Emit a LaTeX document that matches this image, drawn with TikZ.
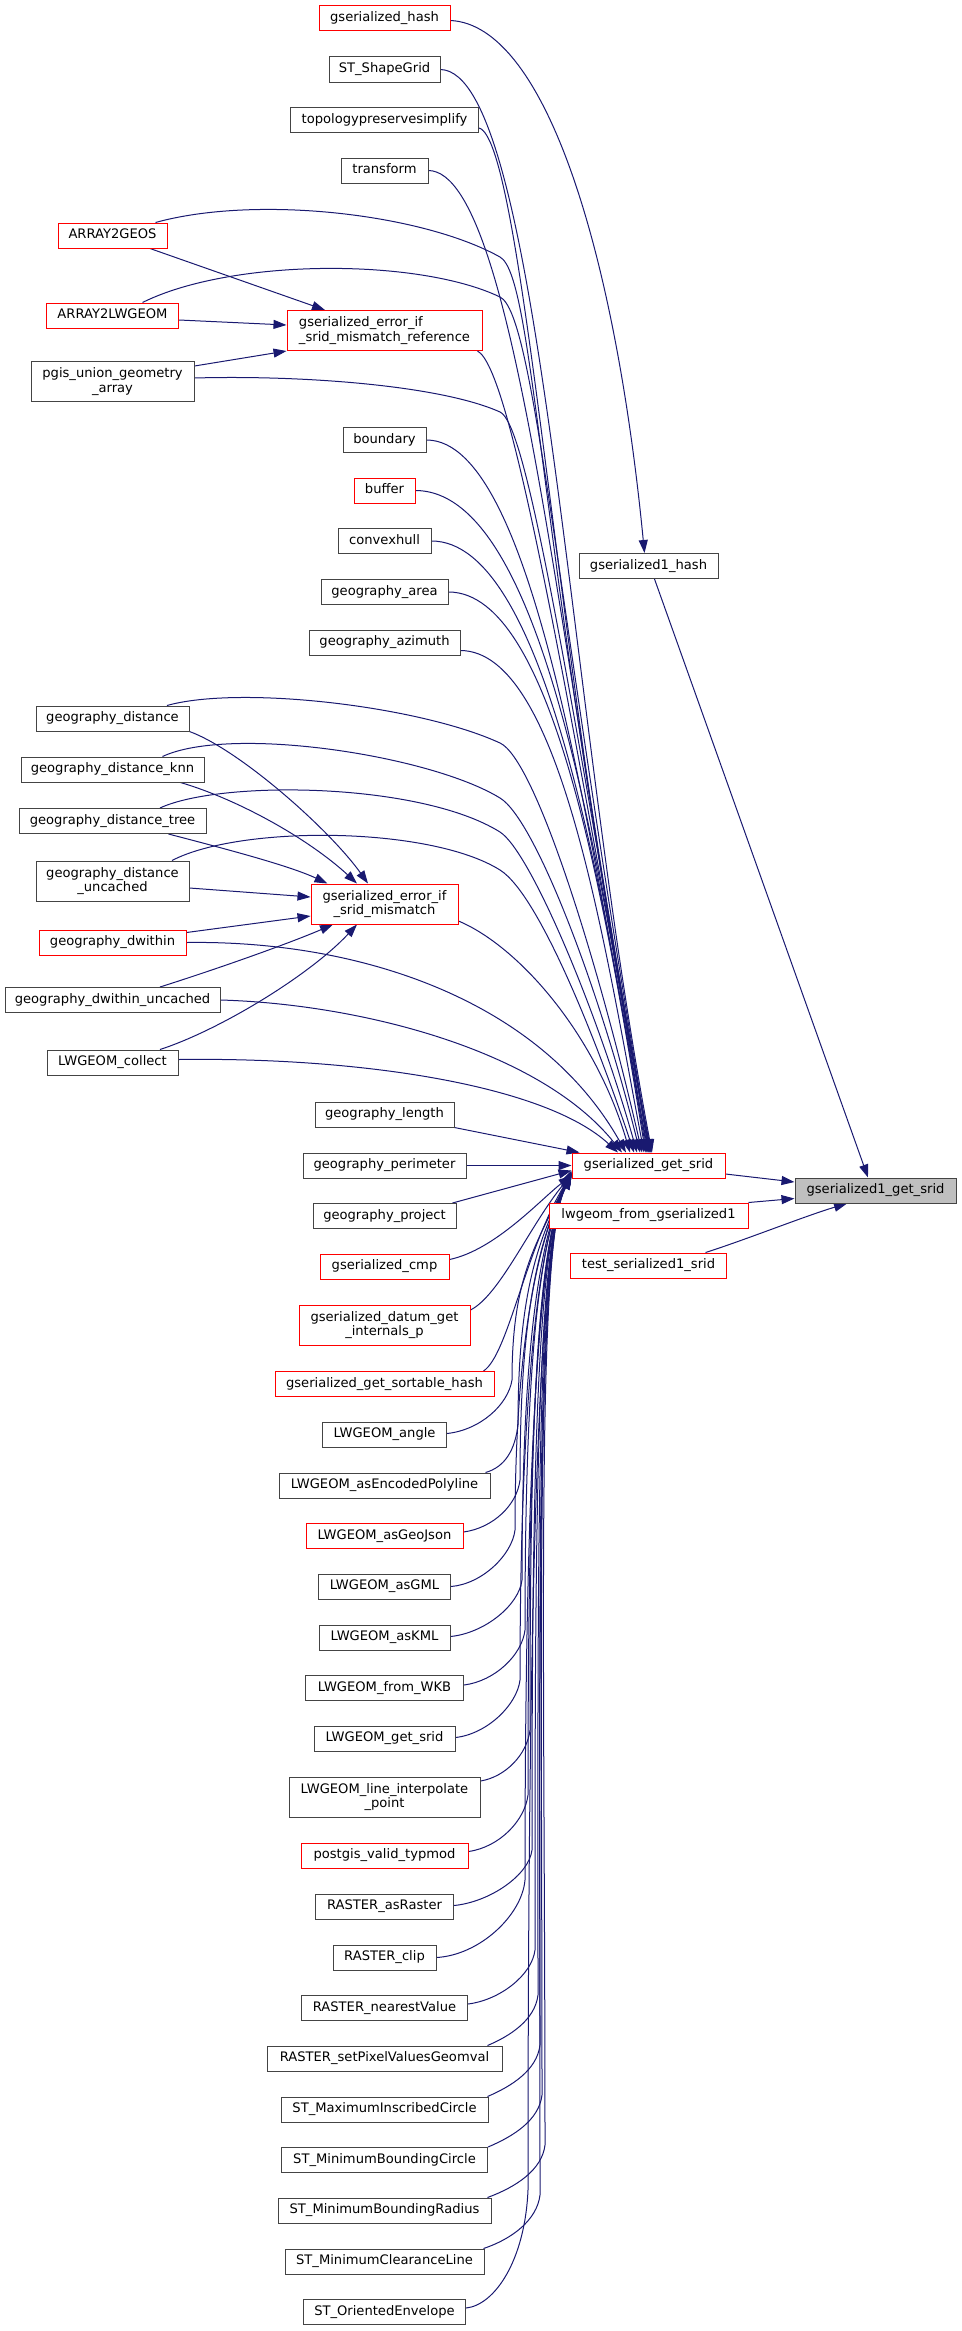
\documentclass[tikz,border=0pt]{standalone}
\usepackage{fontspec}
\setmainfont{DejaVu Sans}
\usetikzlibrary{arrows.meta,backgrounds}
\definecolor{edgeblue}{HTML}{191970}
\definecolor{boxgray}{HTML}{444444}
\definecolor{rootfill}{HTML}{BFBFBF}
\tikzset{
  fn/.style={draw=boxgray, line width=1pt, fill=white, inner xsep=5pt, inner ysep=0pt,
    font=\fontsize{13.1}{14.7}\selectfont},
  onel/.style={fn, minimum height=25pt, text height=9.8pt, text depth=3.1pt},
  twol/.style={fn, minimum height=40pt, align=center},
  hot/.style={draw=red},
  root/.style={fill=rootfill},
  calls/.style={draw=edgeblue, line width=1pt, -{Triangle[length=13pt,width=9pt]}}
}
\begin{document}
\begin{tikzpicture}[x=1pt, y=-1pt]
  \useasboundingbox (0,0) rectangle (961,2331);
  % middle column
  \node[onel, hot, minimum width=131pt] (ghash) at (384.5,18.5) {gserialized\_hash};
  \node[onel, minimum width=111pt] (shapegrid) at (384.5,69.5) {ST\_ShapeGrid};
  \node[onel, minimum width=188pt] (topo) at (384.5,120) {topologypreservesimplify};
  \node[onel, minimum width=87pt] (transform) at (384.5,170.5) {transform};
  \node[twol, hot, align=left, minimum width=195pt] (errref) at (384.5,330.5) {gserialized\_error\_if\\\_srid\_mismatch\_reference};
  \node[onel, minimum width=83pt] (boundary) at (384.5,440) {boundary};
  \node[onel, hot, minimum width=61pt] (buffer) at (384.5,490.5) {buffer};
  \node[onel, minimum width=93pt] (convexhull) at (384.5,541) {convexhull};
  \node[onel, minimum width=127pt] (garea) at (384.5,592) {geography\_area};
  \node[onel, minimum width=151pt] (gazimuth) at (384.5,642.5) {geography\_azimuth};
  \node[twol, hot, minimum width=147pt] (errmis) at (384.5,904) {gserialized\_error\_if\\\_srid\_mismatch};
  \node[onel, minimum width=139pt] (glength) at (384.5,1114.5) {geography\_length};
  \node[onel, minimum width=163pt] (gperim) at (384.5,1165.5) {geography\_perimeter};
  \node[onel, minimum width=143pt] (gproject) at (384.5,1216) {geography\_project};
  \node[onel, hot, minimum width=129pt] (gcmp) at (384.5,1266.5) {gserialized\_cmp};
  \node[twol, hot, minimum width=171pt] (gdatum) at (384.5,1325) {gserialized\_datum\_get\\\_internals\_p};
  \node[onel, hot, minimum width=219pt] (gsorthash) at (384.5,1384) {gserialized\_get\_sortable\_hash};
  \node[onel, minimum width=124pt] (lwangle) at (384.5,1434.5) {LWGEOM\_angle};
  \node[onel, minimum width=211pt] (lwpoly) at (384.5,1485.5) {LWGEOM\_asEncodedPolyline};
  \node[onel, hot, minimum width=157pt] (lwgeojson) at (384.5,1536) {LWGEOM\_asGeoJson};
  \node[onel, minimum width=132pt] (lwgml) at (384.5,1586.5) {LWGEOM\_asGML};
  \node[onel, minimum width=131pt] (lwkml) at (384.5,1637.5) {LWGEOM\_asKML};
  \node[onel, minimum width=158pt] (lwwkb) at (384.5,1688) {LWGEOM\_from\_WKB};
  \node[onel, minimum width=141pt] (lwsrid) at (384.5,1738.5) {LWGEOM\_get\_srid};
  \node[twol, minimum width=191pt] (lwinterp) at (384.5,1797) {LWGEOM\_line\_interpolate\\\_point};
  \node[onel, hot, minimum width=167pt] (typmod) at (384.5,1855.5) {postgis\_valid\_typmod};
  \node[onel, minimum width=138pt] (rasraster) at (384.5,1906.5) {RASTER\_asRaster};
  \node[onel, minimum width=103pt] (rasclip) at (384.5,1957.5) {RASTER\_clip};
  \node[onel, minimum width=166pt] (rasnearest) at (384.5,2008) {RASTER\_nearestValue};
  \node[onel, minimum width=235pt] (raspixel) at (384.5,2058.5) {RASTER\_setPixelValuesGeomval};
  \node[onel, minimum width=207pt] (stmaxcircle) at (384.5,2109.5) {ST\_MaximumInscribedCircle};
  \node[onel, minimum width=206pt] (stmincircle) at (384.5,2160) {ST\_MinimumBoundingCircle};
  \node[onel, minimum width=213pt] (stminradius) at (384.5,2210.5) {ST\_MinimumBoundingRadius};
  \node[onel, minimum width=199pt] (stclearance) at (384.5,2261.5) {ST\_MinimumClearanceLine};
  \node[onel, minimum width=162pt] (stenvelope) at (384.5,2312) {ST\_OrientedEnvelope};
  % left column
  \node[onel, hot, minimum width=109pt] (a2geos) at (112.5,235.5) {ARRAY2GEOS};
  \node[onel, hot, minimum width=132pt] (a2lwgeom) at (112.5,315.5) {ARRAY2LWGEOM};
  \node[twol, minimum width=163pt] (pgisunion) at (112.5,381.5) {pgis\_union\_geometry\\\_array};
  \node[onel, minimum width=153pt] (gdist) at (112.5,718.5) {geography\_distance};
  \node[onel, minimum width=183pt] (gdistknn) at (112.5,769.5) {geography\_distance\_knn};
  \node[onel, minimum width=187pt] (gdisttree) at (112.5,821) {geography\_distance\_tree};
  \node[twol, minimum width=153pt] (gdistunc) at (112.5,881) {geography\_distance\\\_uncached};
  \node[onel, hot, minimum width=147pt] (gdwithin) at (112.5,942.5) {geography\_dwithin};
  \node[onel, minimum width=215pt] (gdwithinunc) at (112.5,1000) {geography\_dwithin\_uncached};
  \node[onel, minimum width=131pt] (lwcollect) at (112.5,1062.5) {LWGEOM\_collect};
  % right columns
  \node[onel, minimum width=139pt] (g1hash) at (648.5,566) {gserialized1\_hash};
  \node[onel, hot, minimum width=153pt] (getsrid) at (648.5,1165.5) {gserialized\_get\_srid};
  \node[onel, hot, minimum width=199pt] (lwfromg1) at (648.5,1215.5) {lwgeom\_from\_gserialized1};
  \node[onel, hot, minimum width=156pt] (testsrid) at (648.5,1265.5) {test\_serialized1\_srid};
  \node[onel, root, minimum width=161pt] (g1srid) at (875.5,1190.5) {gserialized1\_get\_srid};

  \begin{scope}[on background layer]
  % callers of gserialized1_get_srid
  \draw[calls] ([yshift=-8.5pt]getsrid.east) -- ([yshift=8.5pt]g1srid.west);
  \draw[calls] (lwfromg1.north east) -- ([yshift=-8pt]g1srid.west);
  \draw[calls] ([xshift=57pt]testsrid.north) .. controls (745,1240) and (805,1216) .. ([xshift=-28.5pt]g1srid.south);
  \draw[calls] ([xshift=6pt]g1hash.south) -- ([xshift=-7.5pt]g1srid.north);
  \draw[calls] ([yshift=-2pt]ghash.east) .. controls (545,25) and (615,250) .. ([xshift=-4pt]g1hash.north);

  % reference check
  \draw[calls] ([xshift=37.5pt]a2geos.south) -- ([xshift=-59.5pt]errref.north);
  \draw[calls] ([yshift=-4.5pt]a2lwgeom.east) -- ([yshift=5.5pt]errref.west);
  \draw[calls] ([yshift=-5pt]pgisunion.north east) -- (errref.south west);

  % mismatch check
  \draw[calls] (gdist.south east) .. controls (240,750) and (330,830) .. ([xshift=-16.5pt]errmis.north);
  \draw[calls] ([xshift=-24pt]gdistknn.south east) .. controls (240,800) and (310,840) .. ([xshift=-27.5pt]errmis.north);
  \draw[calls] ([xshift=-38pt]gdisttree.south east) .. controls (230,850) and (290,866) .. ([xshift=-57pt]errmis.north);
  \draw[calls] ([yshift=-7pt]gdistunc.east) -- ([yshift=7pt]errmis.west);
  \draw[calls] ([yshift=10pt]gdwithin.east) -- ([yshift=-12pt]errmis.west);
  \draw[calls] ([xshift=47.5pt]gdwithinunc.north) .. controls (220,968) and (290,943) .. ([xshift=-51.5pt]errmis.south);
  \draw[calls] ([xshift=47.5pt]lwcollect.north) .. controls (220,1030) and (310,975) .. ([xshift=-27.5pt]errmis.south);

  % gserialized_get_srid, from above
  \draw[calls] (shapegrid.east) .. controls (540,72) and (567,703) .. ([xshift=3.5pt]getsrid.north);
  \draw[calls] ([yshift=-8pt]topo.east) .. controls (525,140) and (560,720) .. ([xshift=3pt]getsrid.north);
  \draw[calls] (transform.east) .. controls (520,172) and (565,712) .. ([xshift=2.5pt]getsrid.north);
  \draw[calls] ([xshift=-12pt]a2geos.north east) .. controls (255,195) and (421,213) .. (500,257)
    .. controls (535,277) and (538,553) .. ([xshift=2pt]getsrid.north);
  \draw[calls] ([xshift=30pt]a2lwgeom.north) .. controls (232,258) and (419,258) .. (500,297)
    .. controls (535,314) and (556,603) .. ([xshift=1.5pt]getsrid.north);
  \draw[calls] ([xshift=-5pt]errref.south east) .. controls (510,368) and (560,650) .. ([xshift=1pt]getsrid.north);
  \draw[calls] ([yshift=3.5pt]pgisunion.east) .. controls (300,375) and (440,385) .. (500,412)
    .. controls (525,423) and (561,633) .. ([xshift=0.5pt]getsrid.north);
  \draw[calls] (boundary.east) .. controls (536,440) and (591,853) .. (getsrid.north);
  \draw[calls] (buffer.east) .. controls (545,491) and (600,873) .. ([xshift=-1pt]getsrid.north);
  \draw[calls] (convexhull.east) .. controls (545,541) and (603,890) .. ([xshift=-2pt]getsrid.north);
  \draw[calls] (garea.east) .. controls (555,592) and (606,910) .. ([xshift=-3pt]getsrid.north);
  \draw[calls] ([yshift=-8pt]gazimuth.east) .. controls (560,651) and (604,942) .. ([xshift=-4.5pt]getsrid.north);
  \draw[calls] ([xshift=54.5pt]gdist.north) .. controls (240,685) and (420,706) .. (500,743)
    .. controls (535,759) and (598,960) .. ([xshift=-6.5pt]getsrid.north);
  \draw[calls] ([xshift=50pt]gdistknn.north) .. controls (230,725) and (430,755) .. (500,798)
    .. controls (535,819) and (600,990) .. ([xshift=-8.5pt]getsrid.north);
  \draw[calls] ([xshift=47.5pt]gdisttree.north) .. controls (220,780) and (420,782) .. (500,832)
    .. controls (530,851) and (597,1010) .. ([xshift=-11.5pt]getsrid.north);
  \draw[calls] ([xshift=59.5pt]gdistunc.north) .. controls (240,825) and (430,826) .. (500,870)
    .. controls (540,895) and (600,1050) .. ([xshift=-14.5pt]getsrid.north);
  \draw[calls] ([yshift=-17pt]errmis.east) .. controls (518,946) and (595,1033) .. ([xshift=-18.5pt]getsrid.north);
  \draw[calls] (gdwithin.east) .. controls (360,940) and (540,1000) .. ([xshift=-22.5pt]getsrid.north);
  \draw[calls] (gdwithinunc.east) .. controls (360,1004) and (540,1050) .. ([xshift=-26.5pt]getsrid.north);
  \draw[calls] ([yshift=3pt]lwcollect.east) .. controls (360,1057) and (545,1085) .. ([xshift=-30.5pt]getsrid.north);

  % gserialized_get_srid, level
  \draw[calls] (glength.south east) -- ([xshift=8pt]getsrid.north west);
  \draw[calls] (gperim.east) -- (getsrid.west);
  \draw[calls] ([xshift=-4pt]gproject.north east) -- ([yshift=-5pt]getsrid.west);

  % gserialized_get_srid, from below
  \draw[calls] ([yshift=7pt]gcmp.east) .. controls (495,1250) and (540,1200) .. ([yshift=-10pt]getsrid.west);
  \draw[calls] ([yshift=15pt]gdatum.east) .. controls (500,1295) and (530,1225) .. ([yshift=-9pt]getsrid.west);
  \draw[calls] ([xshift=-11pt]gsorthash.north east) .. controls (508,1355) and (525,1250) .. ([yshift=-8pt]getsrid.west);
  \draw[calls] ([yshift=1pt]lwangle.east) .. controls (480,1430) and (508,1405) .. (512,1380)
    .. controls (512,1279) and (535,1245) .. ([yshift=-7pt]getsrid.west);
  \draw[calls] ([xshift=-5pt]lwpoly.north east) .. controls (505,1467) and (515,1450) .. (518,1425)
    .. controls (518,1301) and (535,1245) .. ([yshift=-8pt]getsrid.west);
  \draw[calls] ([yshift=4pt]lwgeojson.east) .. controls (493,1528) and (517,1505) .. (520,1480)
    .. controls (520,1329) and (535,1245) .. ([yshift=-9pt]getsrid.west);
  \draw[calls] (lwgml.east) .. controls (482,1584) and (512,1555) .. (515,1530)
    .. controls (515,1354) and (535,1245) .. ([yshift=-7pt]getsrid.west);
  \draw[calls] ([yshift=1pt]lwkml.east) .. controls (485,1633) and (519,1605) .. (522,1580)
    .. controls (522,1379) and (535,1245) .. ([yshift=-8pt]getsrid.west);
  \draw[calls] ([yshift=3pt]lwwkb.east) .. controls (495,1681) and (522,1655) .. (525,1630)
    .. controls (525,1404) and (535,1245) .. ([yshift=-9pt]getsrid.west);
  \draw[calls] ([yshift=1pt]lwsrid.east) .. controls (487,1734) and (517,1705) .. (520,1680)
    .. controls (520,1429) and (535,1245) .. ([yshift=-6pt]getsrid.west);
  \draw[calls] ([yshift=16pt]lwinterp.east) .. controls (505,1777) and (527,1755) .. (530,1730)
    .. controls (530,1454) and (535,1245) .. ([yshift=-10pt]getsrid.west);
  \draw[calls] ([yshift=4pt]typmod.east) .. controls (500,1847) and (525,1820) .. (528,1795)
    .. controls (528,1486) and (535,1245) .. ([yshift=-8pt]getsrid.west);
  \draw[calls] ([yshift=1pt]rasraster.east) .. controls (490,1902) and (529,1875) .. (532,1850)
    .. controls (532,1514) and (535,1245) .. ([yshift=-11pt]getsrid.west);
  \draw[calls] (rasclip.east) .. controls (480,1955) and (522,1915) .. (525,1880)
    .. controls (525,1529) and (535,1245) .. ([yshift=-7pt]getsrid.west);
  \draw[calls] ([yshift=4pt]rasnearest.east) .. controls (500,2000) and (532,1975) .. (535,1950)
    .. controls (535,1564) and (535,1245) .. ([yshift=-9pt]getsrid.west);
  \draw[calls] ([xshift=-15pt]raspixel.north east) .. controls (510,2036) and (535,2020) .. (538,1995)
    .. controls (538,1587) and (535,1245) .. ([yshift=-10pt]getsrid.west);
  \draw[calls] ([xshift=-1pt]stmaxcircle.north east) .. controls (512,2086) and (537,2070) .. (540,2045)
    .. controls (540,1611) and (535,1245) .. ([yshift=-8pt]getsrid.west);
  \draw[calls] (stmincircle.north east) .. controls (514,2136) and (539,2120) .. (542,2095)
    .. controls (542,1636) and (535,1245) .. ([yshift=-11pt]getsrid.west);
  \draw[calls] ([xshift=-4pt]stminradius.north east) .. controls (516,2187) and (542,2170) .. (545,2145)
    .. controls (545,1661) and (535,1245) .. ([yshift=-9pt]getsrid.west);
  \draw[calls] ([xshift=-1pt]stclearance.north east) .. controls (512,2239) and (537,2220) .. (540,2195)
    .. controls (540,1686) and (535,1245) .. ([yshift=-6pt]getsrid.west);
  \draw[calls] ([yshift=4pt]stenvelope.east) .. controls (495,2305) and (525,2260) .. (528,2190)
    .. controls (528,1684) and (535,1245) .. ([yshift=-5pt]getsrid.west);
  \end{scope}
\end{tikzpicture}
\end{document}
